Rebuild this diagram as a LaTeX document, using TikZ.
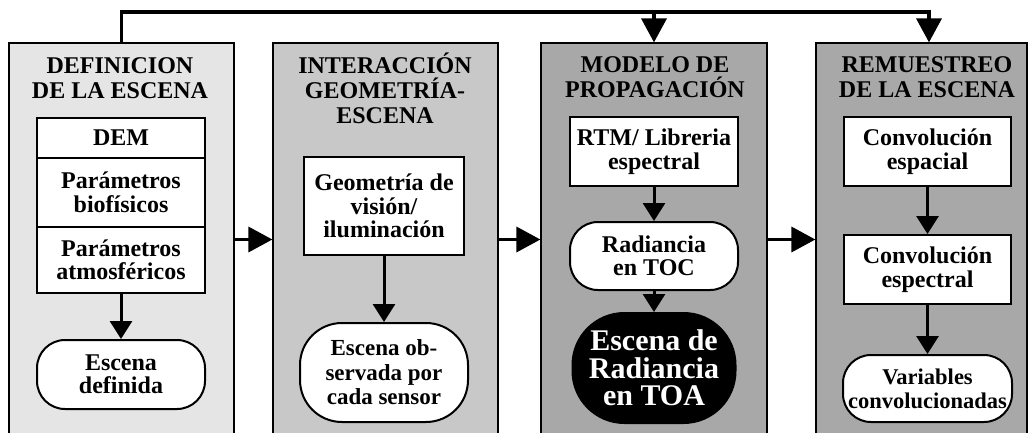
\documentclass[tikz,border=0pt]{standalone}
\usepackage{fontspec}
\setmainfont{Liberation Serif}
\usetikzlibrary{arrows.meta,calc}
\definecolor{pA}{RGB}{229,229,229}
\definecolor{pB}{RGB}{200,200,200}
\definecolor{pC}{RGB}{168,168,168}
\begin{document}
\begin{tikzpicture}[x=1pt,y=-1pt,
  panel/.style={draw=black, line width=1.2pt, inner sep=0pt, minimum height=393pt},
  hd/.style={font=\fontsize{24}{25}\selectfont\bfseries, align=center, inner sep=0pt, anchor=base},
  box/.style={draw=black, line width=2pt, fill=white, align=center, inner sep=0pt, font=\fontsize{24}{23.5}\selectfont\bfseries},
  pill/.style={box, rounded corners=28pt},
  bigarrow/.style={line width=3.5pt, -{Triangle[length=24pt,width=25pt]}},
  smallarrow/.style={line width=3pt, -{Triangle[length=18pt,width=22pt]}}]
\clip (0,0) rectangle (1029,432);
\fill[white] (0,0) rectangle (1029,432);
% panels
\node[panel, fill=pA, minimum width=225pt] (p1) at (121.5,239.5) {};
\node[panel, fill=pB, minimum width=225pt] (p2) at (385.5,239.5) {};
\node[panel, fill=pC, minimum width=226pt] (p3) at (654,239.5) {};
\node[panel, fill=pC, minimum width=211pt] (p4) at (921.5,239.5) {};
% headings (anchor base = last line baseline)
\node[hd] (h1) at (120,98) {DEFINICION\\DE LA ESCENA};
\node[hd] (h2) at (385,123) {INTERACCIÓN\\GEOMETRÍA-\\ESCENA};
\node[hd] (h3) at (655,97) {MODELO DE\\PROPAGACIÓN};
\node[hd] (h4) at (927,97) {REMUESTREO\\DE LA ESCENA};
% panel 1
\node[box, minimum width=168pt, minimum height=40pt] (dem) at (121,138) {DEM};
\node[box, minimum width=168pt, minimum height=69pt] (bio) at (121,192.5) {Parámetros\\biofísicos};
\node[box, minimum width=168pt, minimum height=66pt] (atm) at (121,260) {Parámetros\\atmosféricos};
\node[pill, minimum width=168pt, minimum height=69pt] (def) at (121,374.5) {Escena\\definida};
% panel 2
\node[box, minimum width=160pt, minimum height=98pt] (geo) at (384,206) {Geometría de\\visión/\\iluminación};
\node[pill, rounded corners=42pt, minimum width=168pt, minimum height=99pt, font=\fontsize{23}{24.5}\selectfont\bfseries] (obs) at (384,372.5) {Escena ob-\\servada por\\cada sensor};
% panel 3
\node[box, minimum width=168pt, minimum height=69pt] (rtm) at (654,151.5) {RTM/ Libreria\\espectral};
\node[pill, minimum width=168pt, minimum height=68pt] (toc) at (654,256) {Radiancia\\en TOC};
\node[pill, rounded corners=52pt, fill=black, text=white, minimum width=163pt, minimum height=110pt, font=\fontsize{30}{27.5}\selectfont\bfseries] (toa) at (654,368) {Escena de\\Radiancia\\en TOA};
% panel 4
\node[box, minimum width=167pt, minimum height=69pt] (ces) at (927.5,151.5) {Convolución\\espacial};
\node[box, minimum width=167pt, minimum height=69pt] (cep) at (927.5,269.5) {Convolución\\espectral};
\node[pill, minimum width=169pt, minimum height=67pt, font=\fontsize{22.5}{24}\selectfont\bfseries] (var) at (927.5,388.5) {Variables\\convolucionadas};
% inner arrows
\draw[smallarrow] (atm.south) -- (def.north);
\draw[smallarrow] (geo.south) -- (obs.north);
\draw[smallarrow] (rtm.south) -- (toc.north);
\draw[smallarrow] (toc.south) -- (toa.north);
\draw[smallarrow] (ces.south) -- (cep.north);
\draw[smallarrow] (cep.south) -- (var.north);
% panel arrows
\draw[bigarrow] (p1.east) -- (p2.west);
\draw[bigarrow] (p2.east) -- (p3.west);
\draw[bigarrow] (p3.east) -- (p4.west);
% top connector
\coordinate (tr) at (929,12);
\draw[bigarrow] (p1.north) |- (tr) -- (tr |- p4.north);
\draw[bigarrow] (p3.north |- tr) -- (p3.north);
\end{tikzpicture}
\end{document}
